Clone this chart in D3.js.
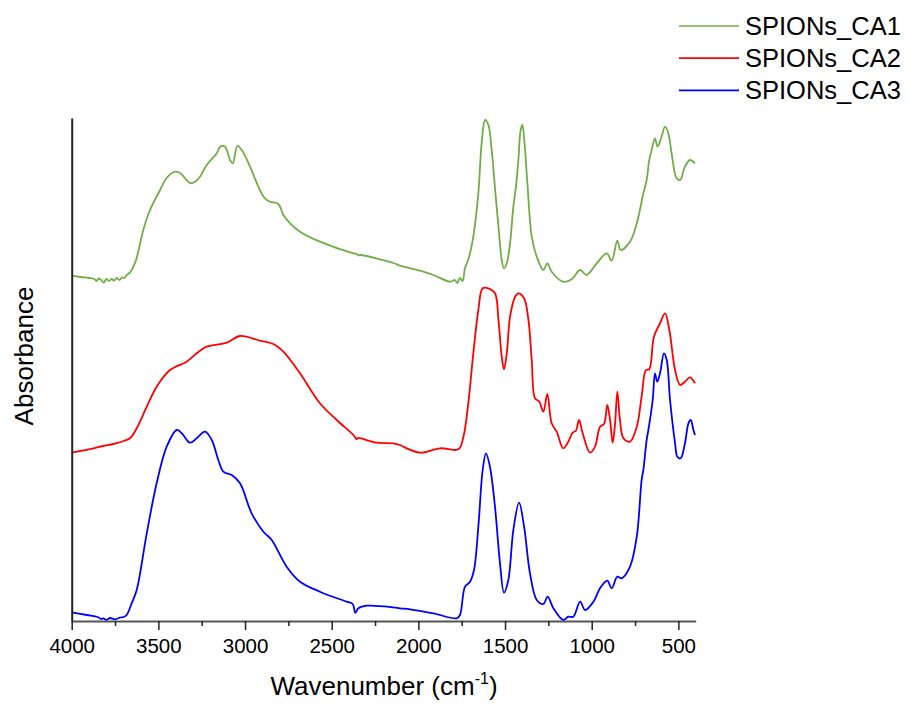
<!DOCTYPE html>
<html><head><meta charset="utf-8">
<script src="https://cdn.jsdelivr.net/npm/d3@7"></script>
<style>
html,body{margin:0;padding:0;background:#fff;}
text{font-family:Arial,"Liberation Sans",Helvetica,sans-serif;fill:#000;}
</style></head>
<body><svg id="c" width="909" height="704"></svg>
<script>
// Series names and colours
const seriesNames = ["SPIONs_CA1", "SPIONs_CA2", "SPIONs_CA3"];
const seriesColors = ["#70AD47", "#FF0000", "#0000FF"];

// Wavenumber (cm-1) / absorbance (arbitrary units, offset stacked) pairs
const ca1Wn = [4000,3950,3900,3870,3856,3845,3830,3815,3800,3785,3770,3755,3740,3725,3710,3695,3683,3670,3654,3640,3625,3587,3548,3490,3452,3404,3375,3317,3289,3260,3221,3163,3144,3115,3087,3071,3044,3019,2971,2914,2885,2856,2808,2779,2740,2683,2568,2375,2355,2345,2337,2144,2106,1990,1914,1817,1790,1775,1760,1745,1731,1715,1702,1683,1654,1635,1615,1596,1577,1558,1538,1519,1506,1490,1471,1452,1437,1423,1410,1400,1389,1371,1346,1317,1279,1256,1231,1164,1115,1067,1029,971,913,885,852,833,779,740,702,683,668,654,635,620,597,577,558,539,510,490,462,433,404];
const ca1Abs = [345.3,344,343,342,340,342.5,341,338.5,342,340,342,340.5,343,341,343.5,343,346,347.5,351,356,363,391,411,431,443,449.3,448,438,439.3,444.3,456,467.7,474.3,474.3,461,457.7,475,471,454.3,431,422.7,419.3,417,406,397.7,389.3,379.3,367.7,367,365.5,366,358,355.3,350.3,346,339.3,341,338,343,340,353,360,367.7,384.3,427.7,477.7,501,496,471,433,394.3,361,352.7,357.7,377.7,414.3,434.3,461,491,496,481,437.7,384.3,364.3,351,357.7,349.3,339.3,341.7,351,346,357.7,367.7,360.3,380.3,371,379.3,397.7,427.7,441,461,471,482.7,474.3,484.3,494.3,487.7,467.7,442.7,441,454.3,461,457.7];

const ca2Wn = [4000,3950,3875,3820,3760,3700,3664,3625,3567,3510,3433,3337,3279,3221,3106,3029,2914,2837,2779,2683,2568,2471,2375,2356,2350,2241,2144,2106,2067,1990,1875,1769,1740,1712,1683,1654,1629,1596,1558,1538,1519,1506,1490,1471,1442,1423,1390,1365,1346,1327,1302,1279,1256,1231,1202,1164,1135,1110,1091,1073,1052,1010,981,952,929,910,894,879,865,852,837,817,779,740,712,687,668,641,606,577,552,519,490,462,433,404];
const ca2Abs = [168.3,170,172.7,175,177,180,182.7,192.7,214.3,234.3,251,259.3,267.7,274.3,278.3,285,280.3,277,269.3,247.7,217.7,201,186,181.7,183,178.3,177.7,176,172.7,168.3,172.7,171.7,184.3,217.7,267.7,311,332.7,332.7,327.7,301,264.3,251.7,267.7,304.3,324.3,327.7,322.7,301,261,222.7,219.3,209.3,227,197.7,189.3,172.7,179.3,188.3,190.3,201,187.7,168.3,174.3,194.3,197,216,201,178.3,197.7,229.3,201,182.7,179.3,194.3,224.3,251,251.7,284.3,297.7,307.7,291,251,236,239.3,243.7,237.7];

const ca3Wn = [4000,3913,3850,3830,3817,3800,3780,3750,3720,3700,3683,3654,3625,3567,3510,3452,3394,3365,3317,3279,3231,3192,3154,3125,3077,3029,2962,2894,2846,2760,2683,2568,2414,2379,2364,2346,2298,2144,2106,2048,1914,1779,1760,1731,1702,1679,1654,1629,1610,1587,1558,1529,1506,1481,1452,1419,1390,1356,1317,1279,1254,1221,1164,1135,1106,1067,1038,990,952,910,885,852,827,779,740,712,702,683,673,648,635,622,606,583,567,548,519,506,487,462,442,429,413,404];
const ca3Abs = [8.7,6,4,2,2.7,1,3,1.7,3.5,4,6,17.7,31,87.7,137.7,174.3,191,187.7,178.3,182.7,189.3,181,161,149.3,146,137.7,107.7,89.3,81,54.3,39.3,29.3,19.3,17,8.3,12.7,15.3,13.7,12.7,11.7,7.7,2.7,6,34.3,39.3,51,94.3,151,167.7,154.3,114.3,57.7,28.3,41,91,118.3,94.3,47.7,21,17,24.3,12.7,1,4.3,4.3,19.3,11,19.3,32.7,40.3,32.7,44.3,42.7,54.3,84.3,141,151,181,191,221,247.7,239.3,247.7,267.7,261,221,177.7,164.3,162.7,177.7,197.7,201,191,186];

// Axis ticks
const majorTicks = [4000,3500,3000,2500,2000,1500,1000,500];
const minorTicks = [3750,3250,2750,2250,1750,1250,750];

const svg = d3.select("#c");
const x = d3.scaleLinear().domain([4000, 400]).range([71.7, 695.7]);
const y = d3.scaleLinear().domain([0, 503]).range([621, 118]);

const series = [
  {name: seriesNames[0], color: seriesColors[0], pts: d3.zip(ca1Wn, ca1Abs)},
  {name: seriesNames[1], color: seriesColors[1], pts: d3.zip(ca2Wn, ca2Abs)},
  {name: seriesNames[2], color: seriesColors[2], pts: d3.zip(ca3Wn, ca3Abs)}
];

const line = d3.line().x(d => x(d[0])).y(d => y(d[1])).curve(d3.curveCatmullRom.alpha(0.5));

svg.append("g").selectAll("path").data(series).join("path")
  .attr("d", d => line(d.pts))
  .attr("fill", "none")
  .attr("stroke", d => d.color)
  .attr("stroke-width", 1.8)
  .attr("stroke-linejoin", "round");

// x axis
const xAxis = d3.axisBottom(x).tickValues(majorTicks).tickSize(9).tickPadding(8).tickSizeOuter(0).tickFormat(d3.format("d"));
const gx = svg.append("g").attr("transform", "translate(0,621)").call(xAxis);
gx.select(".domain").attr("stroke", "#555").attr("stroke-width", 2.2);
gx.selectAll(".tick line").attr("stroke", "#222").attr("stroke-width", 1.5);
gx.selectAll(".tick text").attr("font-size", 20.5).attr("font-family", "Arial, 'Liberation Sans', sans-serif").attr("fill", "#000");
const xMinor = d3.axisBottom(x).tickValues(minorTicks).tickSize(5).tickSizeOuter(0).tickFormat("");
const gxm = svg.append("g").attr("transform", "translate(0,621)").call(xMinor);
gxm.select(".domain").remove();
gxm.selectAll(".tick line").attr("stroke", "#222").attr("stroke-width", 1.5);

// y axis (no ticks)
const yAxis = d3.axisLeft(y).tickValues([]).tickSizeOuter(0);
const gy = svg.append("g").attr("transform", "translate(71.7,0)").call(yAxis);
gy.select(".domain").attr("stroke", "#222").attr("stroke-width", 2);

// Axis titles
const xt = svg.append("text").attr("x", 384).attr("y", 695).attr("text-anchor", "middle").attr("font-size", 26);
xt.append("tspan").text("Wavenumber (cm");
xt.append("tspan").text("-1").attr("font-size", 16).attr("dy", -11);
xt.append("tspan").text(")").attr("dy", 11);

svg.append("text").attr("transform", "translate(33,356) rotate(-90)").attr("text-anchor", "middle").attr("font-size", 26).text("Absorbance");

// Legend
const lg = svg.append("g");
series.forEach((s, i) => {
  const yy = 26 + i * 32.2;
  lg.append("line").attr("x1", 679).attr("x2", 739).attr("y1", yy).attr("y2", yy).attr("stroke", s.color).attr("stroke-width", 1.7);
  lg.append("text").attr("x", 745).attr("y", yy + 9).attr("font-size", 25.5).text(s.name);
});
</script></body></html>
